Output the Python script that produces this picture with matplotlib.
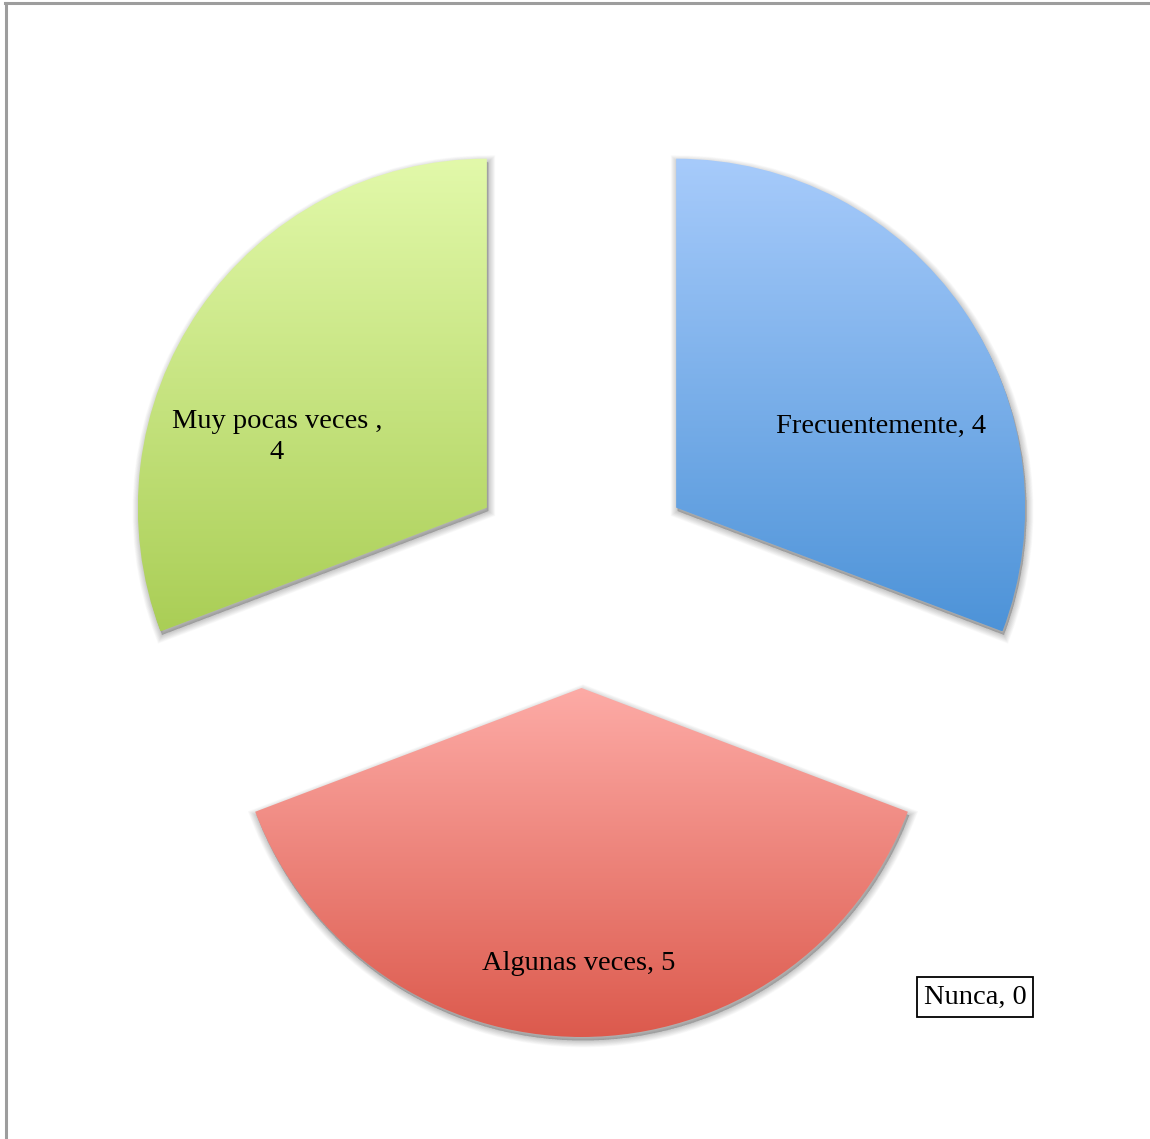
import numpy as np
import matplotlib.pyplot as plt
from matplotlib.patches import Wedge
from matplotlib.colors import LinearSegmentedColormap
from matplotlib.lines import Line2D

# survey answers
categories = ["Frecuentemente", "Algunas veces", "Muy pocas veces ", "Nunca"]
values = [4, 5, 4, 0]
top_colors = ["#a7cbfb", "#fdaba6", "#e2f9aa"]
bottom_colors = ["#4d93d8", "#dc5a4d", "#aace56"]

W, H = 1150, 1139
fig = plt.figure(figsize=(W / 100, H / 100), dpi=100)
ax = fig.add_axes([0, 0, 1, 1])

cx, cy, radius = 581.5, H - 573, 349
explode = [115 if v > 0 else 0 for v in values]
wedges, _ = ax.pie(values, explode=explode, radius=radius, center=(cx, cy),
                   startangle=90, counterclock=False,
                   wedgeprops=dict(linewidth=0))

for i, w in enumerate(wedges):
    if values[i] == 0:
        w.set_visible(False)
        continue
    # soft drop shadow, built from stacked translucent copies
    for k in range(1, 12):
        sh = Wedge((w.center[0] + 1.5, w.center[1] - 3.5), w.r, w.theta1, w.theta2,
                   facecolor=(0, 0, 0, 0.018), edgecolor=(0, 0, 0, 0.018),
                   linewidth=0.9 * k, zorder=1)
        ax.add_patch(sh)
    # vertical gradient clipped to the wedge
    ext = w.get_path().get_extents()
    cmap = LinearSegmentedColormap.from_list("g%d" % i, [bottom_colors[i], top_colors[i]])
    grad = np.linspace(1, 0, 256).reshape(-1, 1)
    im = ax.imshow(grad, cmap=cmap, aspect="auto", interpolation="bilinear",
                   extent=(ext.x0, ext.x1, ext.y0, ext.y1), zorder=2)
    w.set_facecolor("none")
    w.set_zorder(3)
    im.set_clip_path(w)

ax.set_xlim(0, W)
ax.set_ylim(0, H)
ax.axis("off")

font = dict(family="Liberation Serif", fontsize=20.5, color="black",
            ha="center", va="center", zorder=5)
ax.text(881, H - 426, "%s, %d" % (categories[0], values[0]), **font)
ax.text(579, H - 963, "%s, %d" % (categories[1], values[1]), **font)
ax.text(277, H - 437, "%s,\n%d" % (categories[2], values[2]), linespacing=1.35, **font)
ax.text(975, H - 997, "%s, %d" % (categories[3], values[3]),
        bbox=dict(boxstyle="square,pad=0.25", facecolor="white",
                  edgecolor="black", linewidth=1.3), **font)

# page frame
fig.add_artist(Line2D([6 / W, 6 / W], [0, 1 - 3 / H], color="#9d9d9d",
                      linewidth=2.2, transform=fig.transFigure))
fig.add_artist(Line2D([5 / W, 1], [1 - 3 / H, 1 - 3 / H], color="#9d9d9d",
                      linewidth=2.2, transform=fig.transFigure))

fig.savefig("out.png", dpi=100)
